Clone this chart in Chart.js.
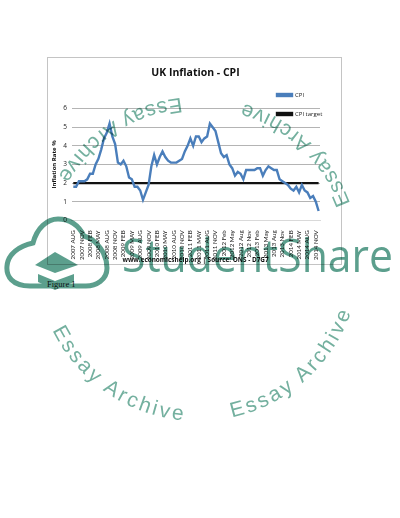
<!DOCTYPE html>
<html>
<head>
<meta charset="utf-8">
<style>
  html, body { margin: 0; padding: 0; background: #fff; }
  body { width: 400px; height: 518px; position: relative; overflow: hidden; }
  #frame { position: absolute; left: 47px; top: 57px; width: 293px; height: 206px; border: 1px solid #c4c4c4; }
  #figure { position: absolute; left: 47px; top: 279px; font: 8.5px "Liberation Serif", serif; color: #222; }
  #marks { position: absolute; left: 0; top: 0; pointer-events: none; mix-blend-mode: multiply; }
</style>
</head>
<body>
<div id="frame"><canvas id="chart-cpi" width="293" height="206"></canvas></div>
<div id="figure">Figure 1</div>
<svg id="marks" width="400" height="518" viewBox="0 0 400 518">
  <defs>
    <path id="ring" d="M 198 97 A 162 162 0 0 0 198 421 A 162 162 0 0 0 198 97 A 162 162 0 0 0 198 421 A 162 162 0 0 0 198 97"/>
  </defs>
  <g fill="#74b09f" font-family="'Liberation Sans', sans-serif" font-size="21">
    <text letter-spacing="1.6"><textPath href="#ring" startOffset="17">Essay Archive</textPath></text>
    <text letter-spacing="2.8"><textPath href="#ring" startOffset="328">Essay Archive</textPath></text>
    <text letter-spacing="2.8"><textPath href="#ring" startOffset="543">Essay Archive</textPath></text>
    <text letter-spacing="1.6"><textPath href="#ring" startOffset="820">Essay Archive</textPath></text>
  </g>
  <path d="M 30 286 C 12 286 6 276 7 266 C 8 254 19 246 33 243 C 37 228 47 219 58 219 C 72 219 80 228 84 236 C 98 240 107 255 107 268 C 107 280 96 286 86 286 Z"
        fill="none" stroke="#5c9f8d" stroke-width="5"/>
  <path d="M 35 265 L 55 252 L 78 265 L 55 273 Z" fill="#5c9f8d"/>
  <path d="M 38 274 L 55 281 L 74 274 L 74 282 L 55 290 L 38 282 Z" fill="#5c9f8d"/>
  <text x="122" y="272" fill="#5c9f8d" font-family="'Open Sans', sans-serif" font-weight="400" font-size="45" textLength="271" lengthAdjust="spacingAndGlyphs">StudentShare</text>
</svg>
<script src="https://cdn.jsdelivr.net/npm/chart.js@4"></script>
<script>
const tickLabels = [
  '2007 AUG', '2007 NOV', '2008 FEB', '2008 MAY', '2008 AUG', '2008 NOV',
  '2009 FEB', '2009 MAY', '2009 AUG', '2009 NOV', '2010 FEB', '2010 MAY',
  '2010 AUG', '2010 NOV', '2011 FEB', '2011 MAY', '2011 AUG', '2011 NOV',
  '2012 Feb', '2012 May', '2012 Aug', '2012 Nov', '2013 Feb', '2013 May',
  '2013 Aug', '2013 Nov', '2014 FEB', '2014 MAY', '2014 AUG', '2014 NOV'
];

// monthly readings, Aug 2007 to Dec 2014
const cpiValues = [
  1.8, 1.8, 2.1, 2.1, 2.1,
  2.2, 2.5, 2.5, 3.0, 3.3, 3.8, 4.4, 4.7, 5.2, 4.5, 4.1, 3.1,
  3.0, 3.2, 2.9, 2.3, 2.2, 1.8, 1.8, 1.6, 1.1, 1.5, 1.9, 2.9,
  3.5, 3.0, 3.4, 3.7, 3.4, 3.2, 3.1, 3.1, 3.1, 3.2, 3.3, 3.7,
  4.0, 4.4, 4.0, 4.5, 4.5, 4.2, 4.4, 4.5, 5.2, 5.0, 4.8, 4.2,
  3.6, 3.4, 3.5, 3.0, 2.8, 2.4, 2.6, 2.5, 2.2, 2.7, 2.7, 2.7,
  2.7, 2.8, 2.8, 2.4, 2.7, 2.9, 2.8, 2.7, 2.7, 2.2, 2.1, 2.0,
  1.9, 1.7, 1.6, 1.8, 1.5, 1.9, 1.6, 1.5, 1.2, 1.3, 1.0, 0.5
];
const targetValues = cpiValues.map(() => 2);
const months = cpiValues.map((v, i) => i);

// legend sits over the plot's top right corner, titles centre on the frame not the plot
const placeBoxes = {
  id: 'placeBoxes',
  afterLayout(chart) {
    const legend = chart.legend;
    legend.left = 216;
    legend.right = 293;
    legend.top = 21;
    legend.bottom = 80;
    chart.scales.x.bottom = chart.height; // tick labels are clipped to the scale box
    chart.boxes.forEach(box => {
      if (box.options && box.options.text) {
        box.left += 10;
        box.right += 10;
      }
    });
  }
};

new Chart(document.getElementById('chart-cpi'), {
  type: 'line',
  data: {
    labels: months,
    datasets: [
      { label: 'CPI', data: cpiValues, borderColor: '#4a7ebb', backgroundColor: '#4a7ebb', borderWidth: 2.4, pointRadius: 0, tension: 0 },
      { label: 'CPI target', data: targetValues, borderColor: '#111', backgroundColor: '#111', borderWidth: 2.4, pointRadius: 0, tension: 0 }
    ]
  },
  options: {
    responsive: false,
    animation: false,
    layout: { padding: { left: 3, right: 21, top: 0, bottom: 0 } },
    plugins: {
      title: {
        display: true,
        text: 'UK Inflation - CPI',
        color: '#111',
        font: { family: 'Open Sans', size: 10.5, weight: 'bold' },
        padding: { top: 9, bottom: 29 }
      },
      subtitle: {
        display: true,
        position: 'bottom',
        text: 'www.economicshelp.org | Source: ONS - D7G7',
        color: '#111',
        font: { family: 'Open Sans', size: 6.4, weight: 'bold' },
        padding: { top: 0, bottom: 0 }
      },
      legend: {
        position: 'chartArea',
        align: 'start',
        labels: {
          color: '#222',
          font: { family: 'Open Sans', size: 6 },
          boxWidth: 15,
          boxHeight: 2,
          padding: 13
        }
      },
      tooltip: { enabled: false }
    },
    scales: {
      x: {
        offset: true,
        afterFit(scale) {
          scale.height = 36;
        },
        grid: { display: false },
        border: { color: '#d9d9d9' },
        ticks: {
          autoSkip: false,
          maxRotation: 90,
          minRotation: 90,
          color: '#222',
          font: { family: 'Lato', size: 6.2 },
          padding: 2,
          callback(value, index) {
            return index % 3 === 0 ? tickLabels[index / 3] : '';
          }
        }
      },
      y: {
        min: 0,
        max: 6,
        title: {
          display: true,
          text: 'Inflation Rate %',
          color: '#111',
          font: { family: 'Open Sans', size: 6, weight: 'bold' },
          padding: { top: 0, bottom: 0 }
        },
        grid: {
          color: ctx => ctx.tick.value === 0 ? '#dcdcdc' : '#b4b4b4',
          drawTicks: false
        },
        border: { display: false },
        ticks: {
          stepSize: 1,
          color: '#222',
          font: { family: 'Open Sans', size: 6.5 },
          padding: 5
        }
      }
    }
  },
  plugins: [placeBoxes]
});
</script>
</body>
</html>
